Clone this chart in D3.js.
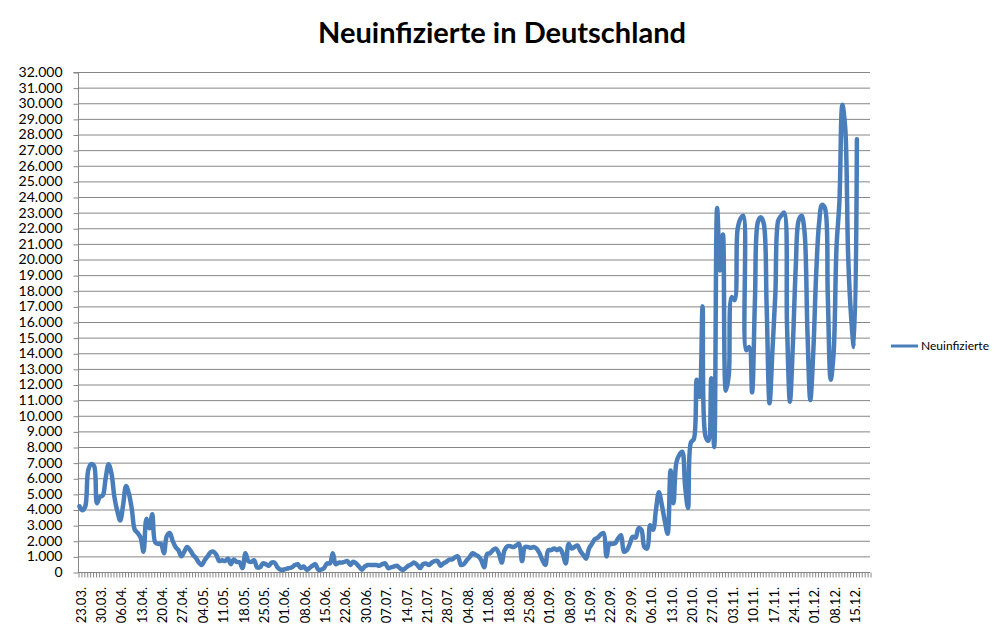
<!DOCTYPE html>
<html>
<head>
<meta charset="utf-8">
<script src="https://cdn.jsdelivr.net/npm/d3@7"></script>
<style>
  body { margin: 0; background: #fff; }
  svg { display: block; font-family: Lato, "Open Sans", sans-serif; }
</style>
</head>
<body>
<div id="chart"></div>
<script>
// one label every 7th row (one day missing in late June)
const tickLabels = [
  "23.03.", "30.03.", "06.04.", "13.04.", "20.04.", "27.04.", "04.05.", "11.05.",
  "18.05.", "25.05.", "01.06.", "08.06.", "15.06.", "22.06.", "30.06.", "07.07.",
  "14.07.", "21.07.", "28.07.", "04.08.", "11.08.", "18.08.", "25.08.", "01.09.",
  "08.09.", "15.09.", "22.09.", "29.09.", "06.10.", "13.10.", "20.10.", "27.10.",
  "03.11.", "10.11.", "17.11.", "24.11.", "01.12.", "08.12.", "15.12."
];

// daily new infections, 23.03. .. 16.12.
const values = [
  4200, 3950, 4200, 6500, 6900, 6800, 4400, 4800, 4900, 6000,
  6900, 6300, 4800, 3900, 3300, 4300, 5500, 5000, 4000, 2700,
  2500, 2200, 1300, 3400, 2800, 3700, 1900, 1800, 1800, 1200,
  2300, 2500, 2000, 1600, 1400, 1000, 1300, 1600, 1400, 1100,
  900, 600, 450, 750, 1000, 1250, 1300, 1100, 700, 750,
  700, 850, 500, 800, 650, 620, 250, 1200, 700, 650,
  750, 300, 300, 550, 500, 400, 600, 600, 300, 150,
  150, 200, 250, 300, 450, 500, 250, 350, 150, 250,
  400, 500, 150, 150, 250, 550, 550, 1200, 500, 600,
  600, 650, 700, 450, 650, 550, 350, 150, 350, 450,
  450, 450, 450, 400, 500, 550, 250, 300, 350, 400,
  250, 150, 250, 400, 500, 600, 450, 250, 500, 550,
  450, 600, 700, 700, 400, 550, 650, 800, 800, 950,
  1000, 450, 500, 750, 950, 1200, 1100, 1000, 750, 300,
  1150, 1200, 1400, 1500, 1200, 600, 1400, 1650, 1650, 1600,
  1700, 1800, 700, 1600, 1600, 1550, 1600, 1500, 1200, 750,
  450, 1400, 1400, 1500, 1400, 1500, 1150, 550, 1800, 1500,
  1600, 1700, 1350, 1100, 850, 1500, 1800, 2100, 2200, 2400,
  2500, 1000, 1800, 1800, 1850, 2150, 2350, 1300, 1400, 1800,
  2250, 2200, 2800, 2700, 1600, 1500, 3000, 2700, 4000, 5100,
  4300, 3300, 2450, 6500, 4400, 7000, 7500, 7700, 5500, 4100,
  8300, 8500, 12300, 11200, 17000, 8700, 8400, 12400, 8000, 23300,
  19300, 21600, 11600, 12600, 17600, 17400, 21900, 22600, 22800, 14200,
  14400, 11500, 17500, 22400, 22700, 22300, 17000, 10800, 14200, 17800,
  22500, 22800, 23000, 15800, 10900, 14500, 19500, 22500, 22800, 21800,
  15500, 11000, 14000, 19000, 22300, 23500, 23300, 17700, 12300, 14000,
  20800, 23700, 29900, 28400, 20200, 16400, 14400, 27700
];

const slotCount = 272;   // axis runs a few empty rows past the data
const labelStep = 7;
const yMax = 32000;
const yStep = 1000;
const seriesName = "Neuinfizierte";

const W = 997, H = 641;
const plot = { left: 78, right: 870, top: 72, bottom: 572 };
const grey = "#868686";
const blue = "#4a7ebb";

const de = d3.formatLocale({ decimal: ",", thousands: ".", grouping: [3], currency: ["", " €"] });
const fmt = de.format(",");

const svg = d3.select("#chart").append("svg")
  .attr("width", W).attr("height", H);

svg.append("rect").attr("width", W).attr("height", H).attr("fill", "#fff");

const x = d3.scaleBand().domain(d3.range(slotCount)).range([plot.left, plot.right]);
const xEdge = d3.scaleLinear().domain([0, slotCount]).range([plot.left, plot.right]);
const y = d3.scaleLinear().domain([0, yMax]).range([plot.bottom, plot.top]);

// title
svg.append("text")
  .attr("x", 502).attr("y", 43)
  .attr("text-anchor", "middle")
  .attr("font-size", 29).attr("font-weight", "bold")
  .attr("fill", "#000")
  .text("Neuinfizierte in Deutschland");

// gridlines
svg.append("g")
  .selectAll("line")
  .data(d3.range(yStep, yMax + 1, yStep))
  .join("line")
  .attr("x1", plot.left).attr("x2", plot.right)
  .attr("y1", d => y(d) + 0.5).attr("y2", d => y(d) + 0.5)
  .attr("stroke", grey).attr("stroke-width", 1);

// y axis
const yAxis = svg.append("g")
  .attr("transform", `translate(${plot.left + 0.5},0)`)
  .call(d3.axisLeft(y).tickValues(d3.range(0, yMax + 1, yStep)).tickSize(5).tickPadding(11).tickFormat(fmt));
yAxis.select(".domain").attr("stroke", grey).attr("d", `M-5,${plot.top + 0.5}H0V${plot.bottom + 0.5}`);
yAxis.selectAll(".tick line").attr("stroke", grey).attr("transform", "translate(0,0.5)");
yAxis.selectAll(".tick text").attr("font-size", 14).attr("fill", "#000").attr("font-family", "Lato, sans-serif");

// x axis: a tick at every row boundary
const xAxis = svg.append("g")
  .attr("transform", `translate(0,${plot.bottom + 0.5})`)
  .call(d3.axisBottom(xEdge).tickValues(d3.range(0, slotCount + 1)).tickSize(5).tickFormat(""));
xAxis.select(".domain").attr("stroke", grey).attr("d", `M${plot.left},0H${plot.right}`);
xAxis.selectAll(".tick line").attr("stroke", grey).attr("transform", "translate(0.5,0)");

// x labels, rotated
svg.append("g")
  .selectAll("text")
  .data(tickLabels)
  .join("text")
  .attr("transform", (d, i) => `translate(${x(i * labelStep) + x.bandwidth() / 2 + 1.5},587) rotate(-90)`)
  .attr("text-anchor", "end")
  .attr("dy", "0.35em")
  .attr("font-size", 13)
  .attr("fill", "#000")
  .text(d => d);

// series line
const line = d3.line()
  .x((d, i) => x(i) + x.bandwidth() / 2)
  .y(d => y(d))
  .curve(d3.curveCatmullRom);

svg.append("path")
  .datum(values)
  .attr("fill", "none")
  .attr("stroke", blue)
  .attr("stroke-width", 4.5)
  .attr("stroke-linejoin", "round")
  .attr("stroke-linecap", "round")
  .attr("d", line);

// legend
const lg = svg.append("g").attr("transform", "translate(891,346)");
lg.append("line").attr("x1", 0).attr("x2", 27).attr("y1", 0).attr("y2", 0)
  .attr("stroke", blue).attr("stroke-width", 3);
lg.append("text").attr("x", 30).attr("y", 4)
  .attr("font-size", 12).attr("fill", "#000")
  .text(seriesName);
</script>
</body>
</html>
